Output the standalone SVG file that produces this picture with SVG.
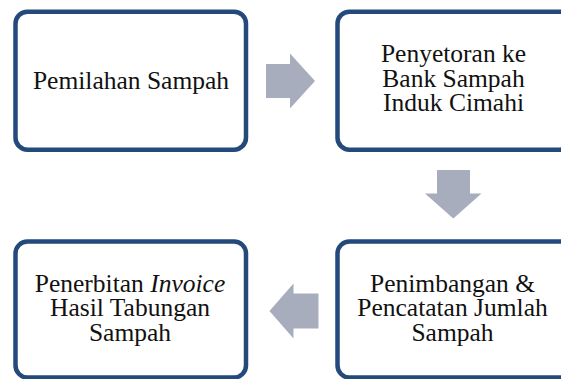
<svg xmlns="http://www.w3.org/2000/svg" width="561" height="379" viewBox="0 0 561 379">
  <style>
    .box { fill: #ffffff; stroke: #244a7c; stroke-width: 4.5; }
    .arrow { fill: #a7adbd; }
    .label { font-size: 25.5px; fill: #111111; text-anchor: middle; }
  </style>
  <rect width="561" height="379" fill="#ffffff"/>

  <!-- process flow connectors -->
  <g id="connectors">
    <polygon class="arrow" points="266,64 290,64 290,53.5 315,81 290,108.5 290,98 266,98"/>
    <polygon class="arrow" points="437,170 470,170 470,193.5 481.5,193.5 453.3,218.5 425,193.5 437,193.5"/>
    <polygon class="arrow" points="318.5,293.5 293.5,293.5 293.5,283.5 269.5,311 293.5,338.5 293.5,328.5 318.5,328.5"/>
  </g>

  <g font-family="'Liberation Serif', 'DejaVu Serif', serif">
    <g id="node-pemilahan">
      <rect class="box" x="15.5" y="11.7" width="230.5" height="138" rx="12"/>
      <text class="label" x="131" y="88.5">Pemilahan Sampah</text>
    </g>

    <g id="node-penyetoran">
      <rect class="box" x="337.5" y="11.7" width="234" height="138" rx="12"/>
      <text class="label" x="453.5" y="62">Penyetoran ke</text>
      <text class="label" x="453.5" y="86.5">Bank Sampah</text>
      <text class="label" x="453.5" y="111">Induk Cimahi</text>
    </g>

    <g id="node-penimbangan">
      <rect class="box" x="337.5" y="241.5" width="234" height="136" rx="12"/>
      <text class="label" x="452.5" y="291.5">Penimbangan &amp;</text>
      <text class="label" x="452.5" y="316">Pencatatan Jumlah</text>
      <text class="label" x="452.5" y="340.5">Sampah</text>
    </g>

    <g id="node-invoice">
      <rect class="box" x="15.5" y="241.5" width="230.5" height="136" rx="12"/>
      <text class="label" x="130" y="291.5">Penerbitan <tspan font-style="italic">Invoice</tspan></text>
      <text class="label" x="130" y="316">Hasil Tabungan</text>
      <text class="label" x="130" y="340.5">Sampah</text>
    </g>
  </g>
</svg>
